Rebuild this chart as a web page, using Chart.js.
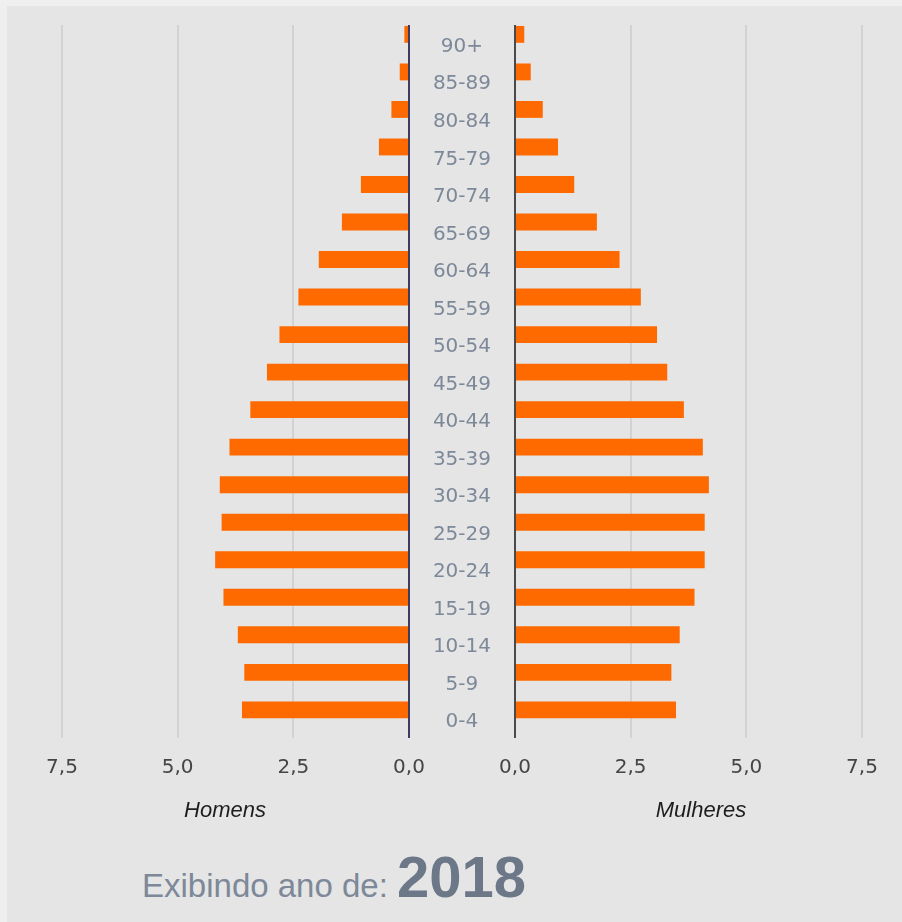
<!DOCTYPE html>
<html lang="pt-BR">
<head>
<meta charset="utf-8">
<title>Pirâmide etária 2018</title>
<script src="https://cdn.jsdelivr.net/npm/chart.js@4.4.1/dist/chart.umd.min.js"></script>
<style>
  html, body { margin: 0; padding: 0; background: #efefef; }
  #pir { position: relative; width: 902px; height: 922px; overflow: hidden; }
  #painel { position: absolute; left: 7px; top: 6px; right: 0; bottom: 0; background: #e5e5e5; }
  #pir canvas { position: absolute; top: 0; }
  #c-homens { left: 0; }
  #c-mulheres { left: 409px; }
  .sexo { position: absolute; width: 200px; text-align: center; font: italic 22px/22px "Liberation Sans", Arial, sans-serif; color: #1e1e1e; }
  .ano { position: absolute; font-family: "Liberation Sans", Arial, sans-serif; white-space: nowrap; }
</style>
</head>
<body>
<div id="pir">
  <div id="painel"></div>
  <canvas id="c-homens" width="440" height="800"></canvas>
  <canvas id="c-mulheres" width="493" height="800"></canvas>
  <div class="sexo" style="left:125px; top:799px;">Homens</div>
  <div class="sexo" style="left:601px; top:799px;">Mulheres</div>
  <span class="ano" style="left:142px; top:869px; font-size:33px; line-height:33px; color:#7d8898;">Exibindo ano de:</span>
  <span class="ano" style="left:397px; top:848px; font-size:58px; line-height:58px; font-weight:bold; color:#6c7888;">2018</span>
</div>
<script>
  // faixas etárias, de cima para baixo
  const faixas = ["90+", "85-89", "80-84", "75-79", "70-74", "65-69", "60-64", "55-59", "50-54",
    "45-49", "40-44", "35-39", "30-34", "25-29", "20-24", "15-19", "10-14", "5-9", "0-4"];

  // % da população
  const homens = [0.10, 0.20, 0.38, 0.65, 1.04, 1.45, 1.95, 2.39, 2.80, 3.07, 3.43, 3.88,
    4.09, 4.05, 4.19, 4.01, 3.70, 3.56, 3.61];
  const mulheres = [0.20, 0.34, 0.60, 0.93, 1.28, 1.77, 2.26, 2.72, 3.07, 3.29, 3.65, 4.06,
    4.19, 4.10, 4.10, 3.88, 3.56, 3.38, 3.48];

  // série de comparação (vazia neste ano) — ocupa a segunda metade de cada faixa
  const comparacao = [];

  const ticksX = [0, 2.5, 5, 7.5];

  const LARANJA = "#ff6a00";
  const fonteEixo = { family: "'DejaVu Sans', Verdana, sans-serif", size: 20 };

  function fmt(v) {
    return v.toFixed(1).replace(".", ",");
  }

  function eixoX(corZero, invertido) {
    return {
      type: "linear",
      reverse: invertido,
      min: ticksX[0],
      max: ticksX[ticksX.length - 1],
      afterBuildTicks: (s) => { s.ticks = ticksX.map((v) => ({ value: v })); },
      afterFit: (s) => { s.height = 62; },
      border: { display: false },
      grid: {
        drawTicks: false,
        lineWidth: 2,
        color: (ctx) => (ctx.tick && ctx.tick.value === 0 ? corZero : "#d2d2d2"),
      },
      ticks: { padding: 18, color: "#454545", font: fonteEixo, callback: (v) => fmt(v) },
    };
  }

  function datasets(valores) {
    return [
      { data: valores, backgroundColor: LARANJA, categoryPercentage: 1, barPercentage: 0.9 },
      { data: comparacao, backgroundColor: LARANJA, categoryPercentage: 1, barPercentage: 0.9 },
    ];
  }

  const comum = {
    responsive: false,
    animation: false,
    indexAxis: "y",
    plugins: { legend: { display: false }, tooltip: { enabled: false } },
  };

  new Chart(document.getElementById("c-homens"), {
    type: "bar",
    data: { labels: faixas, datasets: datasets(homens) },
    options: {
      ...comum,
      layout: { padding: { top: 25, left: 62, right: 31, bottom: 0 } },
      scales: {
        x: eixoX("#3c3c60", true),
        y: { display: false },
      },
    },
  });

  new Chart(document.getElementById("c-mulheres"), {
    type: "bar",
    data: { labels: faixas, datasets: datasets(mulheres) },
    options: {
      ...comum,
      layout: { padding: { top: 25, left: 0, right: 40, bottom: 0 } },
      scales: {
        x: eixoX("#4a4a4a", false),
        y: {
          position: "left",
          afterFit: (s) => {
            s.width = 106;
            s.paddingTop = 0;
            s.paddingBottom = 0;
          },
          border: { display: false },
          grid: { display: false },
          ticks: { padding: 16, labelOffset: 3, crossAlign: "center", color: "#7d8999", font: fonteEixo },
        },
      },
    },
  });
</script>
</body>
</html>
